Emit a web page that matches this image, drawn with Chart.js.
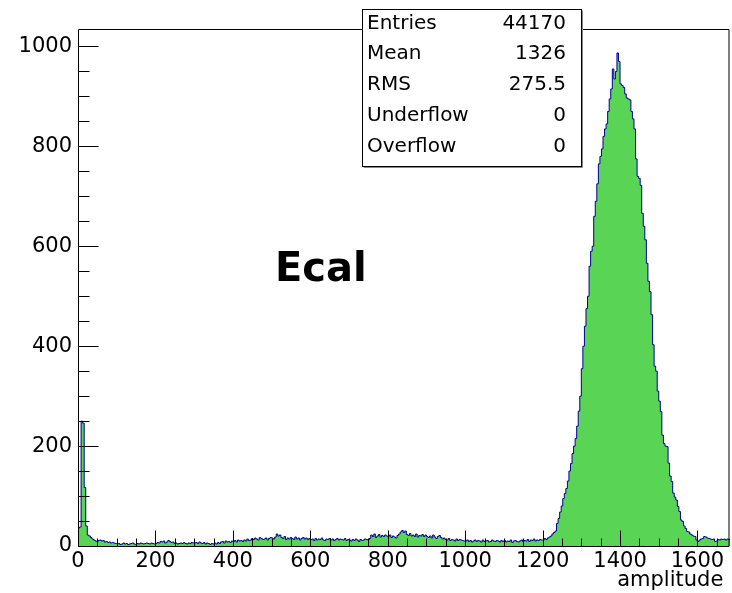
<!DOCTYPE html>
<html>
<head>
<meta charset="utf-8">
<title>Ecal amplitude</title>
<script src="https://cdn.jsdelivr.net/npm/chart.js@4.4.1/dist/chart.umd.min.js"></script>
<style>
    html, body { margin: 0; padding: 0; background: #fff; }
    canvas { display: block; }
</style>
</head>
<body>
<canvas id="ecal-chart" width="732" height="593"></canvas>
<script>
// histogram binning (4 units per bin)
const binWidth = 4;
const xMax = 1684;
const yMax = 1035;

// bin contents
const countsLow = [36, 38, 250, 246, 117, 40, 22, 20, 17, 14, 12, 10, 9, 11, 12, 10, 11, 8, 9, 7, 8, 6, 7, 6, 5];

const countsFlat = [
    4, 5, 3, 4, 6, 4, 5, 3, 4, 5, 6, 4, 3, 5, 4, 6, 5, 4, 5, 6, 5, 4, 6, 5, 4,
    5, 7, 6, 9, 8, 10, 6, 8, 11, 9, 7, 8, 5, 6, 4, 5, 6, 5, 7, 5, 4, 6, 5, 7, 6,
    6, 7, 5, 8, 6, 5, 7, 4, 6, 5, 3, 5, 4, 6, 4, 7, 5, 8, 9, 6, 10, 8, 9, 7, 10,
    9, 11, 8, 12, 10, 11, 9, 12, 10, 14, 11, 12, 15, 13, 16, 14, 12, 17, 15, 13, 14, 16, 12, 15, 17,
    16, 14, 18, 24, 20, 22, 17, 15, 19, 13, 16, 14, 17, 15, 13, 18, 14, 16, 12, 15, 17, 14, 16, 13, 15,
    13, 14, 11, 15, 12, 14, 13, 16, 12, 11, 14, 13, 15, 12, 14, 11, 13, 15, 12, 14, 13, 12, 15, 11, 13,
    12, 10, 13, 11, 14, 12, 9, 13, 11, 12, 14, 13, 12, 15, 22, 19, 24, 17, 20, 23, 18, 21, 19, 22, 20,
    19, 22, 17, 20, 18, 16, 21, 24, 28, 31, 27, 30, 23, 21, 25, 20, 22, 19, 24, 18, 21, 20, 23, 19, 22,
    19, 17, 20, 16, 22, 18, 15, 19, 21, 17, 14, 16, 13, 12, 15, 11, 13, 12, 10, 14, 11, 13, 12, 11, 10,
    10, 12, 9, 11, 8, 10, 12, 9, 11, 10, 8, 12, 9, 10, 11, 8, 9, 12, 10, 9, 11, 10, 8, 11, 9,
    11, 8, 10, 9, 12, 7, 10, 11, 9, 8, 10, 12, 9, 11, 10, 13, 9, 12, 11, 14, 10, 12, 11, 13, 12
];

const countsPeak = [
    12, 15, 13, 16, 18, 20, 24, 27, 30, 45, 55, 68, 80, 95, 105, 115, 130, 150, 165, 185, 200, 215, 240, 270, 300,
    355, 400, 440, 475, 500, 560, 590, 600, 660, 690, 725, 765, 780, 795, 820, 835, 845, 870, 895, 915, 955, 935, 950, 987, 970,
    925, 922, 918, 905, 897, 895, 893, 870, 855, 835, 775, 740, 736, 722, 666, 640, 613, 566, 530, 509, 463, 403, 360, 350, 310,
    290, 269, 222, 205, 200, 199, 166, 140, 129, 106, 98, 92, 79, 69, 52, 49, 40, 35, 29, 28, 24, 22, 20, 19, 12,
    9, 12, 14, 15, 19, 18, 16, 15, 14, 13, 14, 9, 10, 13, 12, 14, 13, 14, 12, 14, 13
];

const xTickValues = [0, 200, 400, 600, 800, 1000, 1200, 1400, 1600];
const yTickValues = [0, 200, 400, 600, 800, 1000];

const statLabels = ['Entries', 'Mean', 'RMS', 'Underflow', 'Overflow'];
const statValues = ['44170', '1326', '275.5', '0', '0'];

const counts = countsLow.concat(countsFlat, countsPeak);
const points = counts.map((c, i) => ({ x: i * binWidth, y: c }));
points.push({ x: counts.length * binWidth, y: counts[counts.length - 1] });

Chart.defaults.font.family = 'DejaVu Sans';
Chart.defaults.color = '#000';

// ROOT style frame, inward tick marks, stats box and label
const rootFrame = {
    id: 'rootFrame',
    afterDatasetsDraw(chart) {
        const { ctx, chartArea: a, scales: { x, y } } = chart;
        const left = Math.round(a.left) + 0.5;
        const bottom = Math.round(a.bottom) + 0.5;
        ctx.save();
        ctx.strokeStyle = '#000';
        ctx.lineWidth = 1;
        ctx.beginPath();
        ctx.rect(left, Math.round(a.top) + 0.5, Math.round(a.right) - 1 - left, bottom - Math.round(a.top) - 0.5);
        for (let v = 0; v <= xMax; v += 50) {
            const px = Math.round(x.getPixelForValue(v)) + 0.5;
            const len = v % 200 === 0 ? 16 : 8;
            ctx.moveTo(px, bottom);
            ctx.lineTo(px, bottom - len);
        }
        for (let v = 0; v <= yMax; v += 50) {
            const py = Math.round(y.getPixelForValue(v)) + 0.5;
            const len = v % 200 === 0 ? 20 : 11;
            ctx.moveTo(left, py);
            ctx.lineTo(left + len, py);
        }
        ctx.stroke();
        ctx.restore();
    },
    afterDraw(chart) {
        const ctx = chart.ctx;
        const bx = 362, by = 9, bw = 219, bh = 157;
        ctx.save();
        ctx.fillStyle = '#fff';
        ctx.fillRect(bx, by, bw, bh);
        ctx.strokeStyle = '#000';
        ctx.lineWidth = 1;
        ctx.strokeRect(bx + 0.5, by + 0.5, bw, bh);
        ctx.strokeStyle = '#888';
        ctx.beginPath();
        ctx.moveTo(bx + 1.5, by + bh + 1.5);
        ctx.lineTo(bx + bw + 1.5, by + bh + 1.5);
        ctx.lineTo(bx + bw + 1.5, by + 1.5);
        ctx.stroke();

        ctx.fillStyle = '#000';
        ctx.font = '20px "DejaVu Sans"';
        ctx.textBaseline = 'alphabetic';
        statLabels.forEach((label, i) => {
            const ty = by + 19.5 + i * 30.8;
            ctx.textAlign = 'left';
            ctx.fillText(label, bx + 5, ty);
            ctx.textAlign = 'right';
            ctx.fillText(statValues[i], bx + 204, ty);
        });

        ctx.font = 'bold 40px "DejaVu Sans"';
        ctx.textAlign = 'left';
        ctx.fillText('Ecal', 275, 281);
        ctx.restore();
    }
};

const ctx = document.getElementById('ecal-chart').getContext('2d');

new Chart(ctx, {
    type: 'line',
    data: {
        datasets: [{
            label: 'amplitude',
            data: points,
            stepped: true,
            fill: 'origin',
            backgroundColor: 'rgb(89, 212, 84)',
            borderColor: 'rgb(0, 0, 153)',
            borderWidth: 1,
            pointRadius: 0,
            tension: 0
        }]
    },
    options: {
        responsive: false,
        animation: false,
        devicePixelRatio: 1,
        layout: {
            padding: { top: 29, right: 2, left: 0, bottom: 0 }
        },
        scales: {
            x: {
                type: 'linear',
                min: 0,
                max: xMax,
                grid: { display: false, drawTicks: false },
                border: { display: false },
                ticks: {
                    padding: 3,
                    maxRotation: 0,
                    autoSkip: false,
                    font: { size: 21 },
                    color: '#000',
                    callback: value => String(value)
                },
                afterBuildTicks: scale => {
                    scale.ticks = xTickValues.map(v => ({ value: v }));
                },
                afterFit: scale => {
                    scale.height = 47;
                },
                title: {
                    display: true,
                    text: 'amplitude ',
                    align: 'end',
                    padding: 0,
                    font: { size: 21 },
                    color: '#000'
                }
            },
            y: {
                min: 0,
                max: yMax,
                grid: { display: false, drawTicks: false },
                border: { display: false },
                ticks: {
                    padding: 6,
                    font: { size: 21 },
                    color: '#000',
                    callback: value => String(value)
                },
                afterBuildTicks: scale => {
                    scale.ticks = yTickValues.map(v => ({ value: v }));
                },
                afterFit: scale => {
                    scale.width = 78;
                }
            }
        },
        plugins: {
            legend: { display: false },
            tooltip: { enabled: false }
        }
    },
    plugins: [rootFrame]
});
</script>
</body>
</html>
